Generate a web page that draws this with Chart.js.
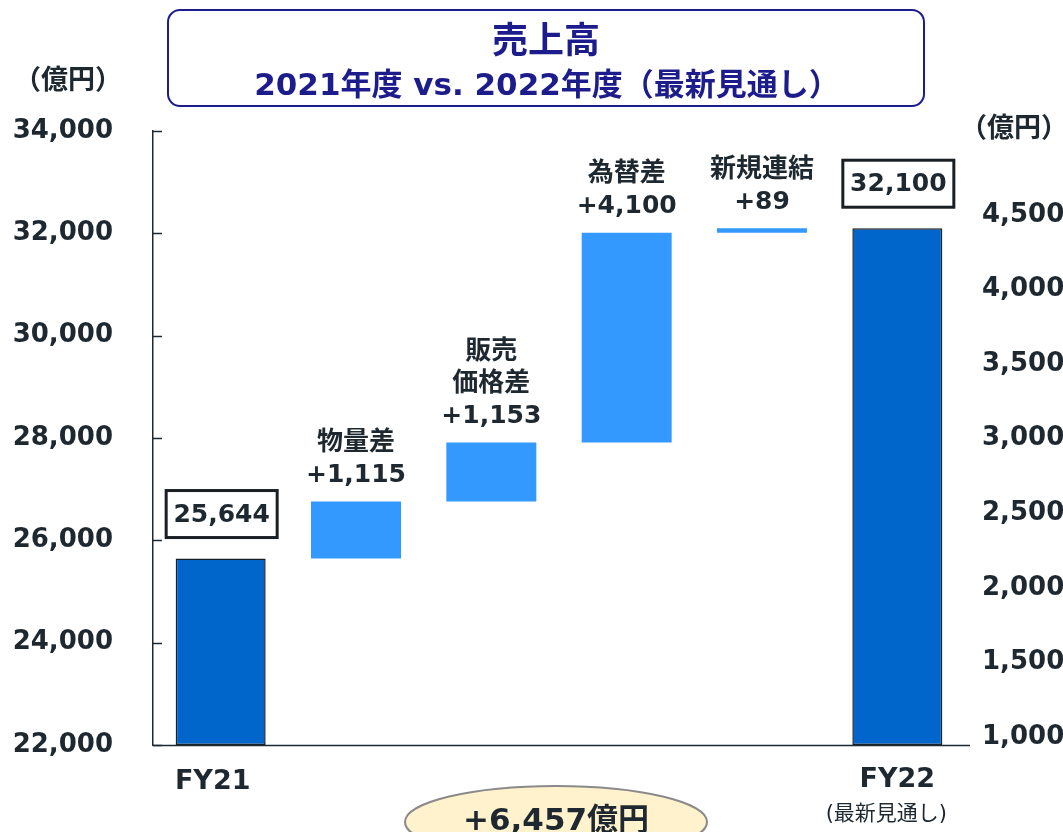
<!DOCTYPE html>
<html>
<head>
<meta charset="utf-8">
<script src="https://cdn.jsdelivr.net/npm/chart.js@4"></script>
<style>
  html, body { margin: 0; padding: 0; background: #fff; }
</style>
</head>
<body>
<canvas id="myChart" width="1063" height="832"></canvas>
<script>
const categories = ['FY21', '物量差', '販売価格差', '為替差', '新規連結', 'FY22'];
const labelLines = [[], ['物量差'], ['販売', '価格差'], ['為替差'], ['新規連結'], []];
const fy21Sales = 25644;
const fy22Sales = 32100;
const deltas = [1115, 1153, 4100, 89];
const leftTicks = [22000, 24000, 26000, 28000, 30000, 32000, 34000];
const rightTicks = [1000, 1500, 2000, 2500, 3000, 3500, 4000, 4500];
const totalChange = '+6,457億円';

const axisMin = leftTicks[0];
const FONT = '"DejaVu Sans", "Noto Sans CJK JP", sans-serif';
const TEXT = '#1e2830';
const NAVY = '#1c1c8c';

// floating bars for the waterfall
const barData = [[axisMin, fy21Sales]];
let run = fy21Sales;
deltas.forEach(d => { barData.push([run, run + d]); run += d; });
barData.push([axisMin, fy22Sales]);

const isTotal = i => i === 0 || i === categories.length - 1;
const fmt = v => v.toLocaleString('en-US');

const decor = {
  id: 'decor',
  beforeDraw(chart) {
    const c = chart.ctx;
    c.save();
    // title box
    c.strokeStyle = NAVY;
    c.lineWidth = 2;
    c.beginPath();
    c.roundRect(168, 10, 756, 96, 12);
    c.stroke();
    c.fillStyle = NAVY;
    c.textAlign = 'center';
    c.textBaseline = 'middle';
    c.font = 'bold 36px ' + FONT;
    c.fillText('売上高', 546, 44);
    c.font = 'bold 31px ' + FONT;
    c.fillText('2021年度 vs. 2022年度（最新見通し）', 547, 87);
    // unit labels
    c.fillStyle = TEXT;
    c.font = 'bold 27px ' + FONT;
    c.fillText('（億円）', 68, 82);
    c.fillText('（億円）', 1014, 130);
    c.restore();
  },
  afterDraw(chart) {
    const c = chart.ctx;
    const y = chart.scales.y;
    const x = chart.scales.x;
    c.save();
    // inward tick marks on left axis
    c.strokeStyle = TEXT;
    c.lineWidth = 1.5;
    leftTicks.forEach(v => {
      const py = Math.round(y.getPixelForValue(v)) + 0.5;
      c.beginPath();
      c.moveTo(x.left, py);
      c.lineTo(x.left + 9, py);
      c.stroke();
    });
    // baseline a bit past the plot on the right
    const by = Math.round(y.getPixelForValue(axisMin)) + 0.5;
    c.beginPath();
    c.moveTo(x.left, by);
    c.lineTo(x.right + 5, by);
    c.stroke();

    // category labels
    c.fillStyle = TEXT;
    c.textAlign = 'center';
    c.textBaseline = 'middle';
    c.font = 'bold 27px ' + FONT;
    c.fillText('FY21', x.getPixelForValue(0) - 8, 782);
    c.fillText('FY22', x.getPixelForValue(5), 780);
    c.font = '21px ' + FONT;
    c.fillText('(最新見通し)', x.getPixelForValue(5) - 11, 815);

    // total change ellipse
    c.beginPath();
    c.ellipse(556, 822, 151, 36, 0, 0, Math.PI * 2);
    c.fillStyle = '#fff2cc';
    c.fill();
    c.strokeStyle = '#8a8a8a';
    c.lineWidth = 2;
    c.stroke();
    c.fillStyle = TEXT;
    c.font = 'bold 31px ' + FONT;
    c.fillText(totalChange, 556, 822);
    c.restore();
  },
  afterDatasetsDraw(chart) {
    const c = chart.ctx;
    const meta = chart.getDatasetMeta(0);
    c.save();
    c.textAlign = 'center';
    c.textBaseline = 'middle';
    c.fillStyle = TEXT;
    meta.data.forEach((bar, i) => {
      const top = Math.min(bar.y, bar.base);
      if (isTotal(i)) {
        const val = i === 0 ? fy21Sales : fy22Sales;
        const bw = 111, bh = 47;
        const bx = bar.x - bw / 2 + 1, byy = top - 21 - bh;
        c.strokeStyle = '#1a1f24';
        c.lineWidth = 3;
        c.strokeRect(bx, byy, bw, bh);
        c.font = 'bold 25px ' + FONT;
        c.fillText(fmt(val), bar.x + 1, byy + bh / 2 + 1);
      } else {
        const numY = top - 26;
        c.font = 'bold 25px ' + FONT;
        c.fillText('+' + fmt(deltas[i - 1]), bar.x, numY);
        c.font = 'bold 26px ' + FONT;
        const lines = labelLines[i];
        lines.forEach((t, k) => {
          c.fillText(t, bar.x, numY - 32 * (lines.length - k));
        });
      }
    });
    c.restore();
  }
};

const ctx = document.getElementById('myChart');

new Chart(ctx, {
  type: 'bar',
  data: {
    labels: categories,
    datasets: [{
      data: barData,
      backgroundColor: categories.map((_, i) => isTotal(i) ? '#0066cc' : '#3399ff'),
      borderColor: categories.map((_, i) => isTotal(i) ? '#1a1f24' : 'rgba(0,0,0,0)'),
      borderWidth: categories.map((_, i) => isTotal(i) ? 1.5 : 0),
      borderSkipped: false,
      barPercentage: 0.665,
      categoryPercentage: 1.0
    }]
  },
  options: {
    responsive: false,
    animation: false,
    devicePixelRatio: 1,
    layout: { padding: { top: 131, left: 0, right: 0, bottom: 0 } },
    scales: {
      x: {
        ticks: { display: false },
        grid: { display: false, drawTicks: false },
        border: { display: false },
        afterFit(s) { s.height = 87; }
      },
      y: {
        position: 'left',
        min: axisMin,
        max: leftTicks[leftTicks.length - 1],
        afterBuildTicks(s) { s.ticks = leftTicks.map(v => ({ value: v })); },
        ticks: {
          padding: 40,
          color: TEXT,
          font: { family: FONT, size: 26, weight: 'bold' },
          callback: v => fmt(v)
        },
        grid: { display: false, drawTicks: false },
        border: { display: true, color: TEXT, width: 1.5 },
        afterFit(s) { s.width = 153; }
      },
      y2: {
        position: 'right',
        min: 946,
        max: 5063,
        afterBuildTicks(s) { s.ticks = rightTicks.map(v => ({ value: v })); },
        ticks: {
          padding: 17,
          color: TEXT,
          font: { family: FONT, size: 26, weight: 'bold' },
          callback: v => fmt(v)
        },
        grid: { display: false, drawTicks: false },
        border: { display: false },
        afterFit(s) { s.width = 98; }
      }
    },
    plugins: {
      legend: { display: false },
      tooltip: { enabled: false },
      title: { display: false }
    }
  },
  plugins: [decor]
});
</script>
</body>
</html>
